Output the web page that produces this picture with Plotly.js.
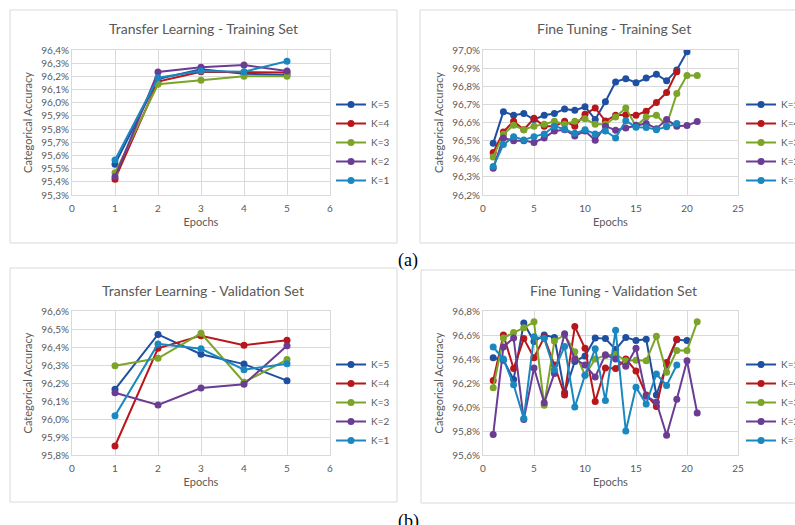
<!DOCTYPE html>
<html>
<head>
<meta charset="utf-8">
<script src="https://cdn.plot.ly/plotly-3.0.1.min.js"></script>
<style>html,body{margin:0;padding:0;background:#fff;}#chart{width:795px;height:525px;}</style>
</head>
<body>
<div id="chart"></div>
<script>
// ---------- data ----------
const seriesNames = ["K=5", "K=4", "K=3", "K=2", "K=1"];
const seriesColors = ["#1F4FA0", "#B9161B", "#7BA428", "#6A3C93", "#1A87BF"];

// Transfer Learning - Training Set (epochs 1..5)
const tlTrainEpochs = [1, 2, 3, 4, 5];
const tlTrainK5 = [95.534, 96.18, 96.253, 96.22, 96.21];
const tlTrainK4 = [95.42, 96.16, 96.235, 96.23, 96.23];
const tlTrainK3 = [95.468, 96.14, 96.17, 96.20, 96.20];
const tlTrainK2 = [95.438, 96.233, 96.27, 96.286, 96.24];
const tlTrainK1 = [95.565, 96.19, 96.24, 96.235, 96.314];

// Fine Tuning - Training Set
const ftTrainK5 = [96.485, 96.66, 96.64, 96.65, 96.616, 96.64, 96.65, 96.675, 96.667, 96.687, 96.617, 96.715, 96.824, 96.842, 96.82, 96.845, 96.866, 96.83, 96.89, 96.99];
const ftTrainK4 = [96.434, 96.548, 96.607, 96.56, 96.623, 96.58, 96.58, 96.607, 96.58, 96.645, 96.68, 96.608, 96.64, 96.643, 96.64, 96.662, 96.71, 96.765, 96.88];
const ftTrainK3 = [96.41, 96.535, 96.585, 96.56, 96.58, 96.59, 96.607, 96.59, 96.607, 96.62, 96.59, 96.59, 96.63, 96.68, 96.58, 96.63, 96.64, 96.585, 96.76, 96.86, 96.86];
const ftTrainK2 = [96.347, 96.515, 96.5, 96.5, 96.49, 96.515, 96.553, 96.56, 96.526, 96.553, 96.502, 96.58, 96.557, 96.57, 96.585, 96.595, 96.566, 96.616, 96.58, 96.583, 96.605];
const ftTrainK1 = [96.357, 96.478, 96.522, 96.504, 96.522, 96.537, 96.58, 96.563, 96.54, 96.56, 96.537, 96.553, 96.515, 96.61, 96.574, 96.573, 96.56, 96.577, 96.594];

// Transfer Learning - Validation Set
const tlValEpochs = [1, 2, 3, 4, 5];
const tlValK5 = [96.165, 96.47, 96.36, 96.305, 96.213];
const tlValK4 = [95.85, 96.393, 96.463, 96.41, 96.437];
const tlValK3 = [96.296, 96.337, 96.476, 96.204, 96.33];
const tlValK2 = [96.146, 96.078, 96.172, 96.193, 96.407];
const tlValK1 = [96.018, 96.417, 96.39, 96.274, 96.307];

// Fine Tuning - Validation Set
const ftValK5 = [96.41, 96.39, 96.23, 96.70, 96.545, 96.6, 96.58, 96.12, 96.38, 96.425, 96.575, 96.57, 96.48, 96.58, 96.555, 96.565, 96.1, 96.35, 96.56, 96.555];
const ftValK4 = [96.22, 96.6, 96.32, 96.57, 96.41, 96.58, 96.35, 96.1, 96.67, 96.49, 96.045, 96.325, 96.32, 96.4, 96.3, 96.1, 96.005, 96.37, 96.565];
const ftValK3 = [96.16, 96.575, 96.62, 96.66, 96.71, 96.015, 96.55, 96.6, 96.46, 96.265, 96.4, 96.43, 96.44, 96.385, 96.39, 96.385, 96.59, 96.29, 96.47, 96.47, 96.71];
const ftValK2 = [95.77, 96.5, 96.575, 95.895, 96.325, 96.035, 96.28, 96.61, 96.4, 96.35, 96.25, 96.435, 96.4, 96.34, 96.49, 96.09, 96.04, 95.765, 96.065, 96.385, 95.95];
const ftValK1 = [96.5, 96.4, 96.185, 95.905, 96.585, 96.57, 96.31, 96.505, 96.0, 96.265, 96.485, 96.055, 96.64, 95.8, 96.165, 96.025, 96.275, 96.18, 96.35];

const panelTitles = ["Transfer Learning - Training Set", "Fine Tuning - Training Set", "Transfer Learning - Validation Set", "Fine Tuning - Validation Set"];
const xTitle = "Epochs";
const yTitle = "Categorical Accuracy";

// ---------- build ----------
const W = 795, H = 525;
const px = v => v / W;
const py = v => 1 - v / H;
const epochsOf = arr => arr.map((_, i) => i + 1);

const panels = [
  { series: [tlTrainK5, tlTrainK4, tlTrainK3, tlTrainK2, tlTrainK1], x: tlTrainEpochs, ax: "", legend: "legend" },
  { series: [ftTrainK5, ftTrainK4, ftTrainK3, ftTrainK2, ftTrainK1], x: null, ax: "2", legend: "legend2" },
  { series: [tlValK5, tlValK4, tlValK3, tlValK2, tlValK1], x: tlValEpochs, ax: "3", legend: "legend3" },
  { series: [ftValK5, ftValK4, ftValK3, ftValK2, ftValK1], x: null, ax: "4", legend: "legend4" }
];

const traces = [];
panels.forEach(p => {
  p.series.forEach((ys, i) => {
    traces.push({
      type: "scatter", mode: "lines+markers",
      x: p.x ? p.x : epochsOf(ys), y: ys,
      name: seriesNames[i],
      xaxis: "x" + p.ax, yaxis: "y" + p.ax,
      legend: p.legend,
      line: { color: seriesColors[i], width: 2 },
      marker: { color: seriesColors[i], size: 7 }
    });
  });
});

const tickFont = { family: "Lato, 'Liberation Sans', sans-serif", size: 10, color: "#595959" };
const axTitleFont = { family: "Lato, 'Liberation Sans', sans-serif", size: 11, color: "#595959" };
const grid = "#d9d9d9";

function xaxis(domain, range, dtick, anchor) {
  return {
    domain, range, dtick, tick0: 0, anchor,
    showgrid: true, gridcolor: grid, zeroline: false,
    showline: true, linecolor: grid, mirror: true,
    ticks: "", tickfont: tickFont, ticklabelstandoff: 4,
    title: { text: xTitle, font: axTitleFont, standoff: 5 },
    fixedrange: true
  };
}
function yaxis(domain, range, dtick, anchor) {
  return {
    domain, range, dtick, tick0: range[0], anchor,
    showgrid: true, gridcolor: grid, zeroline: false,
    showline: true, linecolor: grid, mirror: true,
    ticks: "", tickfont: tickFont,
    tickformat: ".1f", ticksuffix: "%",
    title: { text: yTitle, font: axTitleFont, standoff: 6 },
    fixedrange: true
  };
}

const xL = [px(72), px(330)], xR = [px(483), px(738)];
const yT = [py(195), py(50)], yB = [py(455), py(311)];

function legend(xpx, ytop) {
  return {
    x: px(xpx), y: py(ytop), xanchor: "left", yanchor: "top",
    font: { family: "Lato, 'Liberation Sans', sans-serif", size: 10, color: "#595959" },
    bgcolor: "rgba(0,0,0,0)", borderwidth: 0, itemclick: false, itemdoubleclick: false
  };
}

const titleFont = { family: "Lato, 'Liberation Sans', sans-serif", size: 14, color: "#595959" };
const annotations = [
  { text: panelTitles[0], x: px(203), y: py(28) },
  { text: panelTitles[1], x: px(614), y: py(28) },
  { text: panelTitles[2], x: px(203), y: py(290) },
  { text: panelTitles[3], x: px(613), y: py(290) }
].map(a => Object.assign(a, { xref: "paper", yref: "paper", showarrow: false, font: titleFont, xanchor: "center", yanchor: "middle" }));
const capFont = { family: "'Liberation Serif', 'DejaVu Serif', serif", size: 18, color: "#000" };
annotations.push({ text: "(a)", x: px(408), y: py(260), xref: "paper", yref: "paper", showarrow: false, font: capFont, xanchor: "center", yanchor: "middle" });
annotations.push({ text: "(b)", x: px(408), y: py(521), xref: "paper", yref: "paper", showarrow: false, font: capFont, xanchor: "center", yanchor: "middle" });

const boxLine = { color: "#d9d9d9", width: 1 };
const shapes = [
  { x0: px(10), x1: px(397), y0: py(243), y1: py(10) },
  { x0: px(420), x1: px(800), y0: py(243), y1: py(10) },
  { x0: px(10), x1: px(397), y0: py(502), y1: py(268) },
  { x0: px(421), x1: px(800), y0: py(503), y1: py(270) }
].map(s => Object.assign(s, { type: "rect", xref: "paper", yref: "paper", line: boxLine, fillcolor: "rgba(0,0,0,0)", layer: "below" }));

const layout = {
  width: W, height: H,
  margin: { l: 0, r: 0, t: 0, b: 0, autoexpand: false },
  paper_bgcolor: "#fff", plot_bgcolor: "#fff",
  separators: ",.",
  showlegend: true,
  xaxis: xaxis(xL, [0, 6], 1, "y"),
  yaxis: yaxis(yT, [95.3, 96.4], 0.1, "x"),
  xaxis2: xaxis(xR, [0, 25], 5, "y2"),
  yaxis2: yaxis(yT, [96.2, 97.0], 0.1, "x2"),
  xaxis3: xaxis(xL, [0, 6], 1, "y3"),
  yaxis3: yaxis(yB, [95.8, 96.6], 0.1, "x3"),
  xaxis4: xaxis(xR, [0, 25], 5, "y4"),
  yaxis4: yaxis(yB, [95.6, 96.8], 0.2, "x4"),
  legend: legend(331, 90),
  legend2: legend(741, 90),
  legend3: legend(331, 350),
  legend4: legend(741, 350),
  annotations, shapes
};

Plotly.newPlot("chart", traces, layout, { staticPlot: true, displayModeBar: false });
</script>
</body>
</html>
